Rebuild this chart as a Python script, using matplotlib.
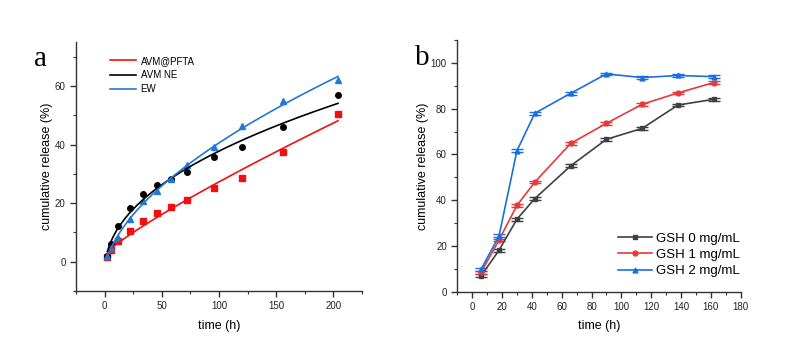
import numpy as np
import matplotlib
matplotlib.use("Agg")
import matplotlib.pyplot as plt
from matplotlib.ticker import MultipleLocator

plt.rcParams['font.family'] = ['Liberation Sans', 'DejaVu Sans']

# panel a data
t_a = [2, 6, 12, 22, 34, 46, 58, 72, 96, 120, 156, 204]
pfta = [1.5, 4.0, 7.0, 10.5, 14.0, 16.5, 18.6, 21.0, 25.2, 28.7, 37.4, 50.5]
ne = [2.0, 6.2, 12.2, 18.4, 23.0, 26.3, 28.3, 30.7, 35.6, 39.1, 46.0, 57.0]
ew = [1.8, 4.6, 8.0, 14.5, 20.8, 24.2, 28.1, 33.0, 39.1, 46.4, 54.7, 62.1]

# panel b data
t_b = [6, 18, 30, 42, 66, 90, 114, 138, 162]
gsh0 = [7.0, 18.1, 31.7, 40.7, 55.0, 66.6, 71.4, 81.6, 84.1]
gsh1 = [8.5, 22.6, 37.7, 47.9, 64.8, 73.6, 81.9, 86.9, 91.4]
gsh2 = [9.8, 24.4, 61.6, 78.0, 86.7, 95.2, 93.6, 94.5, 94.0]
err_b = 0.6


def power_fit(t, y):
    # least squares y = a + b*t^n, n picked from a grid
    t = np.asarray(t, float)
    y = np.asarray(y, float)
    best = None
    for n in np.linspace(0.2, 1.2, 201):
        A = np.column_stack([np.ones_like(t), t ** n])
        coef, res, *_ = np.linalg.lstsq(A, y, rcond=None)
        r = np.sum((A @ coef - y) ** 2)
        if best is None or r < best[0]:
            best = (r, coef, n)
    _, (a, b), n = best
    tt = np.linspace(t.min() + 0.5, t.max(), 200)
    return tt, a + b * tt ** n


def style_axes(ax):
    for s in ['top', 'right']:
        ax.spines[s].set_visible(False)
    for s in ['left', 'bottom']:
        ax.spines[s].set_color('#333333')
        ax.spines[s].set_linewidth(1.0)
    ax.tick_params(which='major', direction='out', length=4, width=1,
                   colors='#333333', labelsize=7, labelcolor='#222222')
    ax.tick_params(which='minor', direction='out', length=2, width=0.8,
                   colors='#333333')


fig = plt.figure(figsize=(7.99, 3.5), dpi=100)

# ---- panel a
ax1 = fig.add_axes([0.0951, 0.1686, 0.358, 0.7114])
red, black, blue = '#f01010', '#000000', '#2278d8'
for y, c, m in [(pfta, red, 's'), (ne, black, 'o'), (ew, blue, '^')]:
    ax1.plot(t_a, y, linestyle='none', marker=m, color=c, markersize=4)
for y, c, lab in [(pfta, red, 'AVM@PFTA'), (ne, black, 'AVM NE'), (ew, blue, 'EW')]:
    tt, yy = power_fit(t_a, y)
    ax1.plot(tt, yy, color=c, linewidth=1.2, label=lab)
ax1.set_xlim(-25, 225)
ax1.set_ylim(-10, 75)
ax1.set_xticks([0, 50, 100, 150, 200])
ax1.set_yticks([0, 20, 40, 60])
ax1.xaxis.set_minor_locator(MultipleLocator(25))
ax1.yaxis.set_minor_locator(MultipleLocator(10))
style_axes(ax1)
ax1.set_xlabel('time (h)', fontsize=9, labelpad=6)
ax1.set_ylabel('cumulative release (%)', fontsize=9, labelpad=1)
ax1.legend(loc='upper left', bbox_to_anchor=(0.09, 0.98), frameon=False,
           fontsize=7, handlelength=2.6, handletextpad=0.5, labelspacing=0.45)
fig.text(0.043, 0.83, 'a', fontsize=21, family='Liberation Serif', va='center')

# ---- panel b
ax2 = fig.add_axes([0.5723, 0.1666, 0.3547, 0.719])
for y, c, m, lab in [(gsh0, '#404040', 's', 'GSH 0 mg/mL'),
                     (gsh1, '#e8393a', 'o', 'GSH 1 mg/mL'),
                     (gsh2, '#1a6fe0', '^', 'GSH 2 mg/mL')]:
    ax2.errorbar(t_b, y, yerr=err_b, color=c, marker=m, markersize=3.5,
                 linewidth=1.2, capsize=4, elinewidth=0.8, capthick=1.0,
                 label=lab)
ax2.set_xlim(-10, 180)
ax2.set_ylim(0, 110)
ax2.set_xticks(np.arange(0, 181, 20))
ax2.set_yticks(np.arange(0, 101, 20))
ax2.xaxis.set_minor_locator(MultipleLocator(10))
ax2.yaxis.set_minor_locator(MultipleLocator(10))
style_axes(ax2)
ax2.set_xlabel('time (h)', fontsize=9, labelpad=6)
ax2.set_ylabel('cumulative release (%)', fontsize=9, labelpad=1)
handles, labels = ax2.get_legend_handles_labels()
handles = [h[0] for h in handles]
ax2.legend(handles, labels, loc='lower right', bbox_to_anchor=(1.04, 0.01),
           frameon=False, fontsize=9.5, handlelength=2.6, handletextpad=0.3,
           labelspacing=0.3)
fig.text(0.519, 0.835, 'b', fontsize=21, family='Liberation Serif', va='center')

fig.savefig('out.png', dpi=100)
